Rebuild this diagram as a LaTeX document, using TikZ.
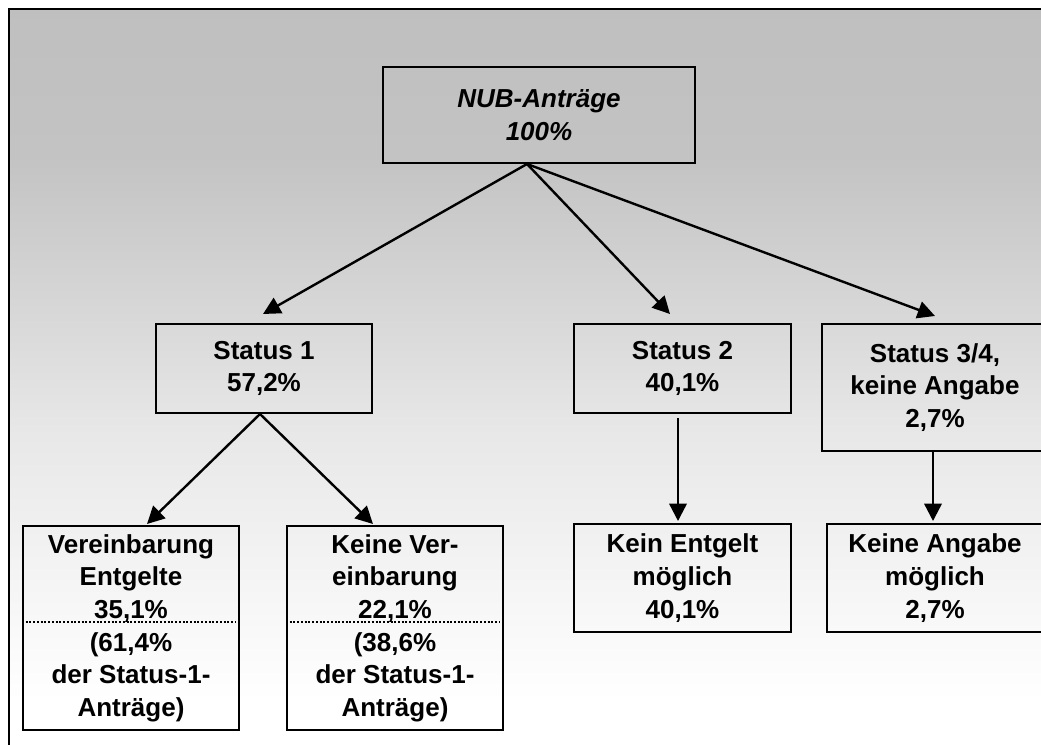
\documentclass[tikz,border=0pt]{standalone}
\usepackage{fontspec}
\setmainfont{Liberation Sans}
\usetikzlibrary{arrows.meta, calc}
\pgfdeclareverticalshading{bgfade}{100bp}{rgb(0bp)=(1,1,1); rgb(28bp)=(1,1,1); rgb(32bp)=(0.98,0.98,0.98); rgb(40bp)=(0.94,0.94,0.94); rgb(46bp)=(0.91,0.91,0.91); rgb(55bp)=(0.84,0.84,0.84); rgb(65bp)=(0.765,0.765,0.765); rgb(75bp)=(0.75,0.75,0.75); rgb(100bp)=(0.75,0.75,0.75)}
\newcommand{\boxfont}{\fontsize{19.5}{24.5}\selectfont\bfseries}

\begin{document}
\begin{tikzpicture}[x=0.75pt, y=-0.75pt,
  box/.style={draw, line width=1.5pt, inner sep=0pt, align=center, font=\boxfont},
  link/.style={line width=1.8pt, -{Triangle[length=13pt, width=13pt]}},
  split/.style={line width=1.6pt, dash pattern=on 1.5pt off 1.3pt}]
\useasboundingbox (0,0) rectangle (1041,745);
\clip (0,0) rectangle (1041,745);

% Background and frame
\shade[shading=bgfade] (9,9) rectangle (1041,745);
\draw[line width=1.7pt] (9,745) -- (9,9) -- (1041,9);

% Top level
\node[box, minimum width=234pt, minimum height=72pt, font=\boxfont\itshape] (nub) at (539,115) {NUB-Anträge\\100\%};

% Status level
\node[box, minimum width=162pt, minimum height=66.75pt] (s1) at (264,368.5) {Status 1\\57,2\%};
\node[box, minimum width=162.75pt, minimum height=66.75pt] (s2) at (682.5,368.5) {Status 2\\40,1\%};
\node[box, minimum width=169.5pt, minimum height=95.25pt] (s3) at (935,387.5) {Status 3/4,\\keine Angabe\\2,7\%};

% Result level
\node[box, minimum width=162pt, minimum height=153pt] (v1) at (131,628) {Vereinbarung\\Entgelte\\35,1\%\\(61,4\%\\der Status-1-\\Anträge)};
\node[box, minimum width=162pt, minimum height=153pt] (v2) at (395,628) {Keine Ver-\\einbarung\\22,1\%\\(38,6\%\\der Status-1-\\Anträge)};
\node[box, minimum width=162.75pt, minimum height=81pt] (k2) at (682.5,578) {Kein Entgelt\\möglich\\40,1\%};
\node[box, minimum width=162pt, minimum height=81pt] (k3) at (935,578) {Keine Angabe\\möglich\\2,7\%};

% Dotted splits
\draw[split] ($(v1.west)+(0,-6)$) -- ($(v1.east)+(-4,-6)$);
\draw[split] ($(v2.west)+(0,-6)$) -- ($(v2.east)+(-4,-6)$);

% Arrows from the top
\draw[link] ($(nub.south)+(-12,0)$) -- ($(s1.north)+(-1,-9)$);
\draw[link] ($(nub.south)+(-12,0)$) -- ($(s2.north)+(-12.5,-9)$);
\draw[link] ($(nub.south)+(-12,0)$) -- ($(s3.north)+(0,-7)$);

% Arrows to the results
\draw[link] ($(s1.south)+(-4,0)$) -- ($(v1.north)+(16,-1)$);
\draw[link] ($(s1.south)+(-4,0)$) -- ($(v2.north)+(-22,-1)$);
\draw[link] ($(s2.south)+(-4.5,4)$) -- ($(k2.north)+(-4.5,-2)$);
\draw[link] ($(s3.south)+(-2,0)$) -- ($(k3.north)+(-2,-2)$);
\end{tikzpicture}
\end{document}
